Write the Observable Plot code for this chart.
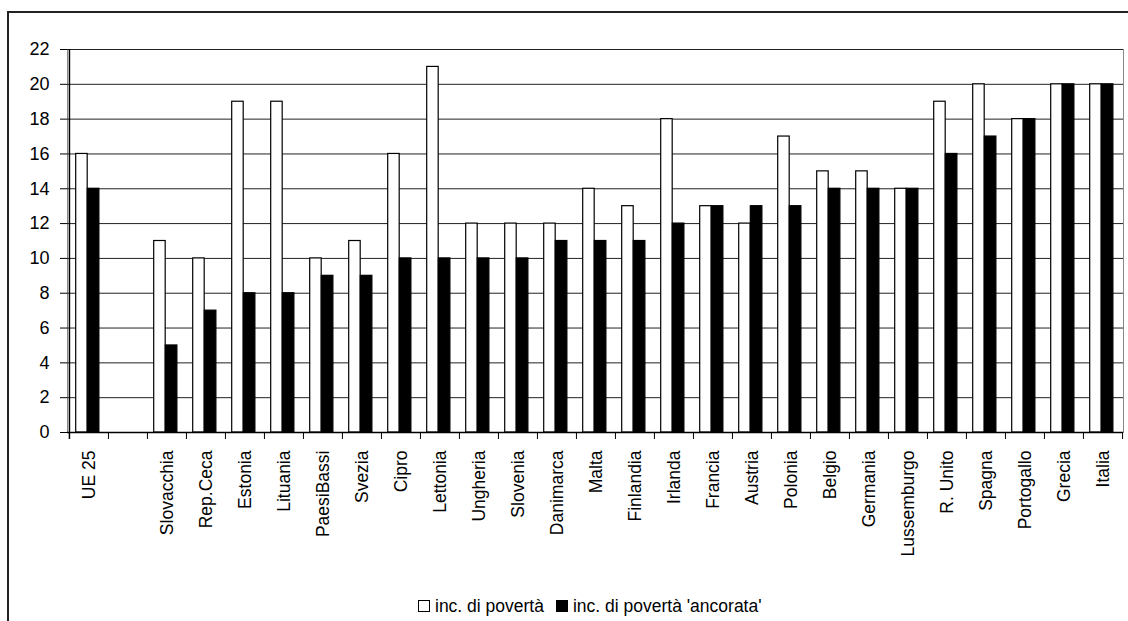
<!DOCTYPE html>
<html><head><meta charset="utf-8">
<script src="https://cdn.jsdelivr.net/npm/d3@7"></script>
<script src="https://cdn.jsdelivr.net/npm/@observablehq/plot@0.6"></script>
<style>
body{margin:0;background:#fff;width:1128px;height:621px;overflow:hidden;position:relative;font-family:"Liberation Sans",Arial,sans-serif;}
#frame{position:absolute;left:7px;top:11px;width:1200px;height:700px;border-top:2px solid #222;border-left:2px solid #222;}
#chart{position:absolute;left:0;top:13px;}
#legend{position:absolute;top:599px;left:418px;font-size:17.5px;display:flex;align-items:center;white-space:nowrap;color:#000;line-height:14px;}
.sw{display:inline-block;width:10px;height:10px;border:1px solid #000;margin-right:5px;}
</style></head><body>
<div id="frame"></div>
<div id="chart"></div>
<div id="legend"></div>
<script>
const categories = ["UE 25", "", "Slovacchia", "Rep.Ceca", "Estonia", "Lituania", "PaesiBassi", "Svezia", "Cipro", "Lettonia", "Ungheria", "Slovenia", "Danimarca", "Malta", "Finlandia", "Irlanda", "Francia", "Austria", "Polonia", "Belgio", "Germania", "Lussemburgo", "R. Unito", "Spagna", "Portogallo", "Grecia", "Italia"];
const povertaRelativa = [16, null, 11, 10, 19, 19, 10, 11, 16, 21, 12, 12, 12, 14, 13, 18, 13, 12, 17, 15, 15, 14, 19, 20, 18, 20, 20];
const povertaAncorata = [14, null, 5, 7, 8, 8, 9, 9, 10, 10, 10, 10, 11, 11, 11, 12, 13, 13, 13, 14, 14, 14, 16, 17, 18, 20, 20];
const seriesNames = ["inc. di povertà", "inc. di povertà 'ancorata'"];
const yTicks = [0, 2, 4, 6, 8, 10, 12, 14, 16, 18, 20, 22];

const rel = categories.map((c, i) => ({cat: c, value: povertaRelativa[i]})).filter(d => d.value != null);
const anc = categories.map((c, i) => ({cat: c, value: povertaAncorata[i]})).filter(d => d.value != null);

const W = 1128, H = 560, mL = 67, mR = 5, mT = 36, mB = 141;
const bw = (W - mL - mR) / categories.length;
const FONT = '"Liberation Sans",Arial,sans-serif';

const chart = Plot.plot({
  width: W, height: H,
  marginLeft: mL, marginRight: mR, marginTop: mT, marginBottom: mB,
  x: {domain: categories, padding: 0, axis: null},
  y: {domain: [0, 22], axis: null},
  style: {fontFamily: FONT, background: "transparent", color: "#000"},
  marks: [
    Plot.frame({stroke: "#888"}),
    Plot.ruleY(yTicks.filter(d => d > 0), {stroke: "#222"}),
    Plot.barY(rel, {x: "cat", y: "value", fill: "#fff", stroke: "#000", strokeWidth: 1.2, insetLeft: 6.7, insetRight: bw - 18.3}),
    Plot.barY(anc, {x: "cat", y: "value", fill: "#000", stroke: "#000", strokeWidth: 1.2, insetLeft: 18.3, insetRight: bw - 30}),
    Plot.ruleY([0], {stroke: "#000", strokeWidth: 1.5}),
    Plot.ruleX([categories[0]], {x: d => d, dx: -bw / 2, y1: 22, y2: 0, insetBottom: -7, stroke: "#000", strokeWidth: 1.5}),
    Plot.ruleX(categories.slice(1), {x: d => d, dx: -bw / 2, y1: 0, y2: 0, insetBottom: -7, stroke: "#000"}),
    Plot.ruleX([categories[categories.length - 1]], {x: d => d, dx: bw / 2, y1: 0, y2: 0, insetBottom: -7, stroke: "#000"}),
    Plot.axisX({tickSize: 0, tickPadding: 18, tickRotate: -90, fontSize: 17.5, label: null, tickFormat: d => d}),
    Plot.axisY({ticks: yTicks, tickSize: 7, tickPadding: 11, fontSize: 18, label: null, tickFormat: d => d})
  ]
});
document.getElementById("chart").appendChild(chart);

const legend = document.getElementById("legend");
const fills = ["#fff", "#000"];
seriesNames.forEach((name, i) => {
  const sw = document.createElement("span");
  sw.className = "sw";
  sw.style.background = fills[i];
  if (i > 0) sw.style.marginLeft = "12px";
  legend.appendChild(sw);
  const t = document.createElement("span");
  t.textContent = name;
  legend.appendChild(t);
});
</script>
</body></html>
